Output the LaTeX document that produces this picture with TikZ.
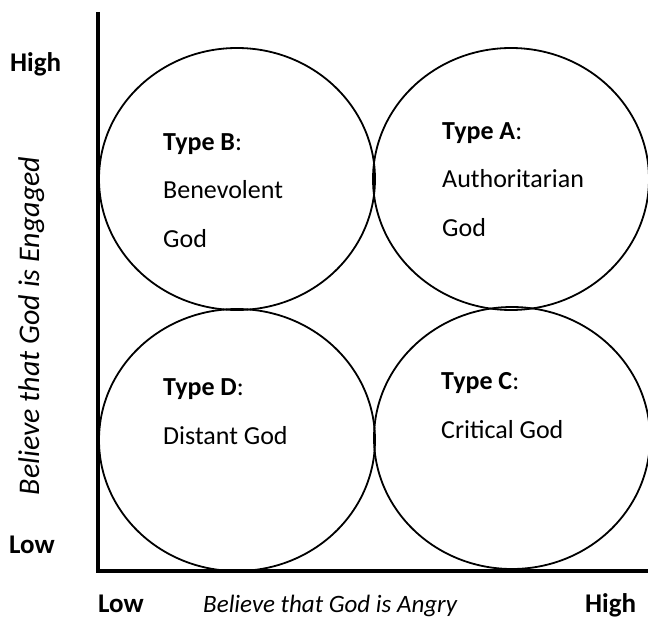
\documentclass[tikz,border=0pt]{standalone}
\usepackage{fontspec}
\setmainfont{Carlito}
\usetikzlibrary{shapes.geometric}
\begin{document}
\begin{tikzpicture}[x=1pt,y=-1pt,
  quad/.style={ellipse,draw,line width=1.8pt,inner sep=0pt,minimum width=276pt,minimum height=262pt},
  axisline/.style={line width=3.2pt,line join=miter},
  lbl/.style={anchor=base west,inner sep=0pt,font=\fontsize{25}{30}\selectfont},
  blbl/.style={anchor=base west,inner sep=0pt,font=\fontsize{27}{32}\selectfont\bfseries},
  txt/.style={anchor=base west,inner sep=0pt,align=left,font=\fontsize{26}{48.5}\selectfont}]
\useasboundingbox (0,0) rectangle (648,618);
% circles
\node[quad] (cB) at (237,179) {};
\node[quad] (cA) at (511,179) {};
\node[quad] (cD) at (237,440) {};
\node[quad] (cC) at (512,438) {};
% axes
\coordinate (ytop) at (98,12);
\coordinate (origin) at (98,571);
\coordinate (xend) at (648,571);
\draw[axisline] (ytop) -- (origin) -- (xend);
% axis labels
\node[blbl] (yhigh) at (10,72) {High};
\node[blbl] (ylow) at (9,553) {Low};
\node[blbl] (xlow) at (98,612) {Low};
\node[blbl] (xhigh) at (585,612) {High};
\node[lbl,font=\fontsize{25}{30}\selectfont\itshape] (xlab) at (203,612) {Believe that God is Angry};
\node[font=\fontsize{30}{36}\selectfont\itshape,rotate=90,anchor=base,inner sep=0pt] (ylab) at (39,326) {Believe that God is Engaged};
% quadrant texts (anchor = baseline of last line)
\node[txt] (tB) at (163,247) {\textbf{Type B}:\\Benevolent\\God};
\node[txt] (tA) at (442,236) {\textbf{Type A}:\\Authoritarian\\God};
\node[txt] (tD) at (163,444) {\textbf{Type D}:\\Distant God};
\node[txt] (tC) at (441,438) {\textbf{Type C}:\\Critical God};
\end{tikzpicture}
\end{document}
